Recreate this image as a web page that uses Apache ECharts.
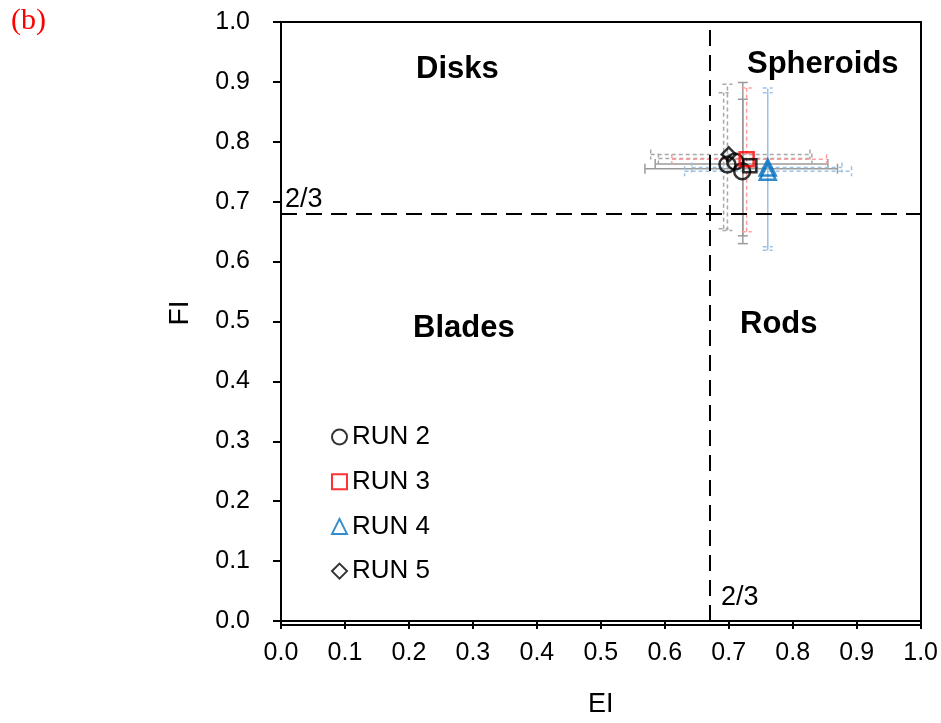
<!DOCTYPE html>
<html>
<head>
<meta charset="utf-8">
<script src="https://cdn.jsdelivr.net/npm/echarts@6/dist/echarts.min.js"></script>
<style>
  html, body { margin: 0; padding: 0; background: #fff; }
  #chart { width: 941px; height: 723px; }
</style>
</head>
<body>
<div id="chart"></div>
<script>
// axis ticks
const tickLabels = ['0.0', '0.1', '0.2', '0.3', '0.4', '0.5', '0.6', '0.7', '0.8', '0.9', '1.0']

// shape-factor points [EI, FI]
const run2 = [[0.698, 0.762], [0.710, 0.767], [0.721, 0.751]]
const run3 = [[0.728, 0.771]]
const run3b = [[0.733, 0.760]]
const run4 = [[0.761, 0.757], [0.761, 0.750]]
const run5 = [[0.700, 0.779]]

// error bars [EI, FI, EI low, EI high, FI low, FI high]
const errGreySolid = [[0.722, 0.755, 0.569, 0.870, 0.630, 0.899], [0.722, 0.763, 0.585, 0.855, 0.643, 0.871]]
const errGreyDash = [[0.698, 0.779, 0.578, 0.827, 0.652, 0.896], [0.692, 0.772, 0.590, 0.830, 0.655, 0.882]]
const errRed = [[0.728, 0.771, 0.611, 0.853, 0.650, 0.890]]
const errBlue = [[0.761, 0.751, 0.631, 0.892, 0.619, 0.882], [0.761, 0.757, 0.642, 0.877, 0.625, 0.890]]

// class boundary (2/3)
const limitEI = 0.670
const limitFI = 0.675

const FONT = '"Liberation Sans", Arial, sans-serif'

function errorBars(data, color, dash) {
    return {
        type: 'custom',
        silent: true,
        z: 1,
        data: data,
        encode: { x: 0, y: 1 },
        renderItem: (params, api) => {
            const x = api.value(0), y = api.value(1)
            const left = api.coord([api.value(2), y])
            const right = api.coord([api.value(3), y])
            const low = api.coord([x, api.value(4)])
            const high = api.coord([x, api.value(5)])
            const cap = 5
            const style = { stroke: color, lineWidth: 1.5, lineDash: dash }
            const seg = (x1, y1, x2, y2) => ({ type: 'line', shape: { x1, y1, x2, y2 }, style })
            return {
                type: 'group',
                children: [
                    seg(left[0], left[1], right[0], right[1]),
                    seg(left[0], left[1] - cap, left[0], left[1] + cap),
                    seg(right[0], right[1] - cap, right[0], right[1] + cap),
                    seg(low[0], low[1], high[0], high[1]),
                    seg(low[0] - cap, low[1], low[0] + cap, low[1]),
                    seg(high[0] - cap, high[1], high[0] + cap, high[1])
                ]
            }
        }
    }
}

function points(name, data, symbol, color, size) {
    return {
        name: name,
        type: 'scatter',
        z: 3,
        data: data,
        symbol: symbol,
        symbolSize: size,
        itemStyle: { color: 'rgba(0,0,0,0)', borderColor: color, borderWidth: 2.5 }
    }
}

const regionText = (text, x, y) => ({
    type: 'text', left: x, top: y,
    style: { text: text, font: 'bold 31px ' + FONT, fill: '#000' }
})

const chart = echarts.init(document.getElementById('chart'))

chart.setOption({
    animation: false,
    grid: { left: 281, right: 20, top: 22, bottom: 98, containLabel: false, show: false },
    xAxis: {
        type: 'value', min: 0, max: 1, interval: 0.1,
        name: 'EI', nameLocation: 'middle', nameGap: 70,
        nameTextStyle: { fontFamily: FONT, fontSize: 27, color: '#000' },
        axisLine: { show: true, onZero: false, lineStyle: { color: '#000', width: 2 } },
        axisTick: { show: true, inside: false, length: 8, lineStyle: { color: '#000', width: 2 } },
        axisLabel: { fontFamily: FONT, fontSize: 25, color: '#000', margin: 20,
            formatter: (v) => tickLabels[Math.round(v * 10)] },
        splitLine: { show: false }
    },
    yAxis: {
        type: 'value', min: 0, max: 1, interval: 0.1,
        axisLine: { show: true, onZero: false, lineStyle: { color: '#000', width: 2 } },
        axisTick: { show: true, inside: false, length: 8, lineStyle: { color: '#000', width: 2 } },
        axisLabel: { fontFamily: FONT, fontSize: 25, color: '#000', margin: 31,
            formatter: (v) => tickLabels[Math.round(v * 10)] },
        splitLine: { show: false }
    },
    legend: {
        data: ['RUN 2', 'RUN 3', 'RUN 4', 'RUN 5'],
        orient: 'vertical', left: 326, top: 419, itemGap: 18.7,
        itemWidth: 15, itemHeight: 15,
        textStyle: { fontFamily: FONT, fontSize: 26, lineHeight: 26, color: '#000' }
    },
    graphic: [
        { type: 'rect', shape: { x: 281, y: 22, width: 640, height: 603 }, style: { fill: 'none', stroke: '#000', lineWidth: 2 }, silent: true },
        regionText('Disks', 416, 54),
        regionText('Spheroids', 747, 49),
        regionText('Blades', 413, 313),
        regionText('Rods', 740, 309),
        { type: 'text', x: 180, y: 313, rotation: Math.PI / 2,
          style: { text: 'FI', font: '28px ' + FONT, fill: '#000', align: 'center', verticalAlign: 'middle' } },
        { type: 'text', left: 285, top: 186, style: { text: '2/3', font: '27px ' + FONT, fill: '#000' } },
        { type: 'text', left: 721, top: 584, style: { text: '2/3', font: '27px ' + FONT, fill: '#000' } },
        { type: 'text', left: 11, top: 6, style: { text: '(b)', font: '30px "Liberation Serif", "DejaVu Serif", serif', fill: '#ff0000' } }
    ],
    series: [
        {
            type: 'line', data: [], silent: true,
            markLine: {
                symbol: 'none', silent: true, label: { show: false },
                lineStyle: { color: '#000', width: 2, type: [16, 9] },
                data: [{ xAxis: limitEI }, { yAxis: limitFI }]
            }
        },
        errorBars(errGreySolid, '#9a9a9a', null),
        errorBars(errGreyDash, '#a8a8a8', [4, 3]),
        errorBars(errRed, '#ff9c9c', [4, 3]),
        errorBars(errBlue, '#9cc3e6', [4, 3]),
        points('RUN 5', run5, 'diamond', '#000', 14),
        points('RUN 2', run2, 'circle', '#000', 16),
        points('RUN 3', run3, 'rect', '#ff0000', 14),
        points('black square', run3b, 'rect', '#000', 13),
        points('RUN 4', run4, 'triangle', '#0070c0', 16)
    ]
})
</script>
</body>
</html>
